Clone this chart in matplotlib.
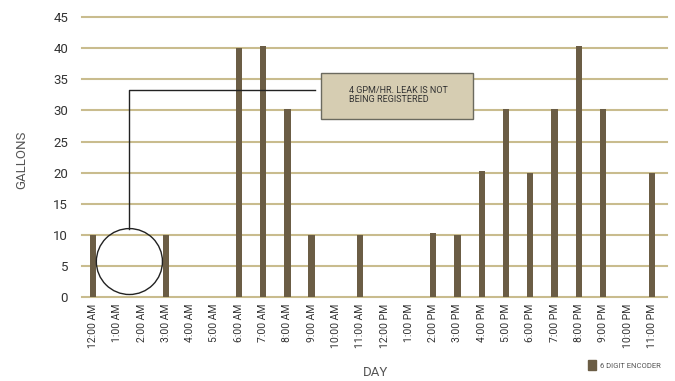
import matplotlib.pyplot as plt
from matplotlib.patches import Ellipse, Rectangle, Patch

plt.rcParams["font.family"] = ["Roboto", "DejaVu Sans"]

hours = ["12:00 AM", "1:00 AM", "2:00 AM", "3:00 AM", "4:00 AM", "5:00 AM",
         "6:00 AM", "7:00 AM", "8:00 AM", "9:00 AM", "10:00 AM", "11:00 AM",
         "12:00 PM", "1:00 PM", "2:00 PM", "3:00 PM", "4:00 PM", "5:00 PM",
         "6:00 PM", "7:00 PM", "8:00 PM", "9:00 PM", "10:00 PM", "11:00 PM"]
gallons = [10, 0, 0, 10, 0, 0, 40, 40.3, 30.3, 10, 0, 10,
           0, 0, 10.3, 10, 20.3, 30.3, 20, 30.3, 40.3, 30.3, 0, 20]
yticks = [0, 5, 10, 15, 20, 25, 30, 35, 40, 45]

bar_color = "#6b5d45"
grid_color = "#c9bc8e"
text_color = "#333333"

fig = plt.figure(figsize=(6.75, 3.81), dpi=100)
ax = fig.add_axes([0.1215, 0.2205, 0.8665, 0.7345])

x = list(range(len(hours)))
ax.bar(x, gallons, width=0.26, color=bar_color, zorder=3)

ax.set_xlim(-0.45, 23.62)
ax.set_ylim(0, 45)
ax.set_yticks(yticks)
ax.set_xticks(x)
ax.set_xticklabels(hours, rotation=90, fontsize=7.5, color=text_color)
ax.tick_params(axis="y", labelsize=9.5, labelcolor=text_color, length=0, pad=10)
ax.tick_params(axis="x", length=0, pad=5)
for s in ax.spines.values():
    s.set_visible(False)
for yv in yticks:
    ax.axhline(yv, color=grid_color, lw=1.5, zorder=1, clip_on=False)

fig.text(22 / 675, 1 - 160 / 381, "GALLONS", rotation=90, fontsize=9.5,
         color="#555555", ha="center", va="center")
fig.text(375 / 675, 1 - 372 / 381, "DAY", fontsize=9.5, color="#555555",
         ha="center", va="center")

# leak annotation
ax.add_patch(Ellipse((1.5, 5.7), 2.72, 10.6, fill=False, ec="#222222", lw=1, zorder=5))
ax.plot([1.5, 1.5, 9.14], [11.0, 33.3, 33.3], color="#222222", lw=1, zorder=5)
ax.add_patch(Rectangle((9.38, 28.6), 6.26, 7.4, fc="#d6cdb2", ec="#6b6a5f", lw=1, zorder=5))
ax.text(10.55, 33.9, "4 GPM/HR. LEAK IS NOT\nBEING REGISTERED", fontsize=6.5,
        color=text_color, va="top", ha="left", zorder=6, linespacing=1.0)

leg = fig.legend(handles=[Patch(color=bar_color, label="6 DIGIT ENCODER")],
                 loc="lower right", bbox_to_anchor=(0.99, 0.01), frameon=False,
                 fontsize=5.5, handlelength=1.0, handleheight=1.6, handletextpad=0.6)
for t in leg.get_texts():
    t.set_color("#555555")

fig.savefig("out.png", dpi=100)
